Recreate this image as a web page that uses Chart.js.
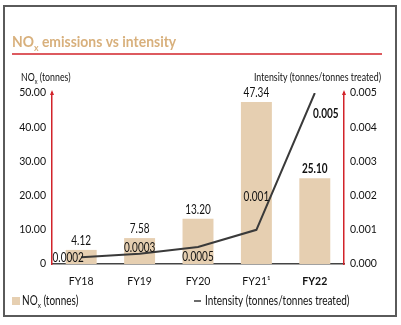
<!DOCTYPE html>
<html>
<head>
<meta charset="utf-8">
<script src="https://cdn.jsdelivr.net/npm/chart.js@4.4.0/dist/chart.umd.min.js"></script>
<style>
  html, body { margin: 0; padding: 0; background: #fff; }
  #wrap { position: relative; width: 401px; height: 325px; }
  #frame { position: absolute; left: 3px; top: 5px; width: 390px; height: 308px; border: 2px solid #5a5a5a; }
  canvas { position: absolute; left: 0; top: 0; }
</style>
</head>
<body>
<div id="wrap">
  <div id="frame"></div>
  <canvas id="chart" width="401" height="325"></canvas>
</div>
<script>
// chart data
const years = ['FY18', 'FY19', 'FY20', 'FY21¹', 'FY22'];
const noxTonnes = [4.12, 7.58, 13.20, 47.34, 25.10];
const intensity = [0.0002, 0.0003, 0.0005, 0.001, 0.005];
const noxAxisMax = 50;
const noxAxisStep = 10;
const intensityAxisMax = 0.005;
const intensityAxisStep = 0.001;

const FONT = "Lato, sans-serif";
const NARROW = 0.8; // horizontal squeeze for plugin-drawn text
const TAN = '#e6cfb1';
const RED = '#d2232a';
const LINE = '#3a3a3a';

// where each intensity label sits relative to its point (px)
const intensityLabelShift = [[-13, 1], [0, -6], [0, 10], [0, -33], [11, 21]];

// fill text squeezed horizontally, returns advance width
function narrowText(ctx, text, x, y, k = NARROW) {
  const w = ctx.measureText(text).width * k;
  let left = x;
  if (ctx.textAlign === 'center') left = x - w / 2;
  else if (ctx.textAlign === 'right') left = x - w;
  ctx.save();
  ctx.textAlign = 'left';
  ctx.translate(left, y);
  ctx.scale(k, 1);
  ctx.fillText(text, 0, 0);
  ctx.restore();
  return w;
}

// draws "NO" + subscript x + rest
function drawNOx(ctx, x, y, size, weight, rest, color, k = NARROW) {
  ctx.fillStyle = color;
  ctx.textAlign = 'left';
  ctx.textBaseline = 'alphabetic';
  ctx.font = `${weight} ${size}px ${FONT}`;
  x += narrowText(ctx, 'NO', x, y, k);
  ctx.font = `${weight} ${Math.round(size * 0.6)}px ${FONT}`;
  x += narrowText(ctx, 'x', x, y + size * 0.25, k);
  ctx.font = `${weight} ${size}px ${FONT}`;
  narrowText(ctx, rest, x, y, k);
}

const decorations = {
  id: 'decorations',
  afterDatasetsDraw(chart) {
    const { ctx, chartArea, scales } = chart;
    ctx.save();

    // title + red rule
    drawNOx(ctx, 12, 47, 16, 'bold', ' emissions vs intensity', '#d8b07c', 0.87);
    ctx.strokeStyle = RED;
    ctx.lineWidth = 1.5;
    ctx.beginPath();
    ctx.moveTo(12, 54);
    ctx.lineTo(382, 54);
    ctx.stroke();

    // axis titles
    drawNOx(ctx, 21, 81, 11, 'normal', ' (tonnes)', '#111');
    ctx.font = `11px ${FONT}`;
    ctx.textAlign = 'right';
    narrowText(ctx, 'Intensity (tonnes/tonnes treated)', 381, 81);

    // arrow heads on the red axes
    ctx.fillStyle = RED;
    [scales.y.right, scales.y1.left].forEach(x => {
      ctx.beginPath();
      ctx.moveTo(x - 2, chartArea.top + 2);
      ctx.lineTo(x, chartArea.top - 3);
      ctx.lineTo(x + 2, chartArea.top + 2);
      ctx.closePath();
      ctx.fill();
    });

    // bar value labels
    ctx.fillStyle = '#111';
    ctx.textAlign = 'center';
    ctx.textBaseline = 'bottom';
    chart.getDatasetMeta(0).data.forEach((bar, i) => {
      ctx.font = (i === 4 ? 'bold ' : '') + `12.5px ${FONT}`;
      narrowText(ctx, noxTonnes[i].toFixed(2), bar.x, bar.y - 3);
    });

    // intensity labels
    ctx.textBaseline = 'middle';
    chart.getDatasetMeta(1).data.forEach((pt, i) => {
      const [dx, dy] = intensityLabelShift[i];
      ctx.font = (i === 4 ? 'bold ' : '') + `12.5px ${FONT}`;
      narrowText(ctx, String(intensity[i]), pt.x + dx, pt.y + dy);
    });

    // legend
    ctx.fillStyle = TAN;
    ctx.fillRect(12, 297, 8, 8);
    drawNOx(ctx, 22, 305, 12.5, 'normal', ' (tonnes)', '#111');
    ctx.strokeStyle = LINE;
    ctx.lineWidth = 1.5;
    ctx.beginPath();
    ctx.moveTo(194, 301);
    ctx.lineTo(201, 301);
    ctx.stroke();
    ctx.fillStyle = '#111';
    ctx.textAlign = 'left';
    ctx.textBaseline = 'alphabetic';
    ctx.font = `12.5px ${FONT}`;
    narrowText(ctx, 'Intensity (tonnes/tonnes treated)', 205, 305);

    ctx.restore();
  }
};

new Chart(document.getElementById('chart'), {
  data: {
    labels: years,
    datasets: [
      {
        type: 'bar',
        label: 'NOx (tonnes)',
        data: noxTonnes,
        backgroundColor: TAN,
        yAxisID: 'y',
        barPercentage: 0.53,
        categoryPercentage: 1,
        order: 2,
      },
      {
        type: 'line',
        label: 'Intensity (tonnes/tonnes treated)',
        data: intensity,
        borderColor: LINE,
        borderWidth: 2,
        pointRadius: 0,
        tension: 0,
        yAxisID: 'y1',
        order: 1,
      },
    ],
  },
  options: {
    responsive: false,
    animation: false,
    layout: { padding: { top: 93, bottom: 31, left: 0, right: 0 } },
    plugins: {
      legend: { display: false },
      tooltip: { enabled: false },
    },
    scales: {
      x: {
        grid: { display: false, drawTicks: false },
        border: { color: '#444', width: 1.5 },
        ticks: {
          padding: 11,
          color: '#111',
          font: ctx => ({ family: FONT, size: 10.5, weight: ctx.index === 4 ? 'bold' : 'normal' }),
        },
        afterFit: s => { s.height = 30; },
      },
      y: {
        position: 'left',
        min: 0,
        max: noxAxisMax,
        grid: { display: false, drawTicks: false },
        border: { color: RED, width: 1.5 },
        ticks: {
          stepSize: noxAxisStep,
          padding: 6,
          color: '#111',
          font: { family: FONT, size: 10.5 },
          callback: v => (v === 0 ? '0' : v.toFixed(2)),
        },
        afterFit: s => { s.width = 52; },
      },
      y1: {
        position: 'right',
        min: 0,
        max: intensityAxisMax,
        grid: { display: false, drawTicks: false },
        border: { color: RED, width: 1.5 },
        ticks: {
          stepSize: intensityAxisStep,
          padding: 6,
          color: '#111',
          font: { family: FONT, size: 10.5 },
          callback: v => v.toFixed(3),
        },
        afterFit: s => { s.width = 57; },
      },
    },
  },
  plugins: [decorations],
});
</script>
</body>
</html>
